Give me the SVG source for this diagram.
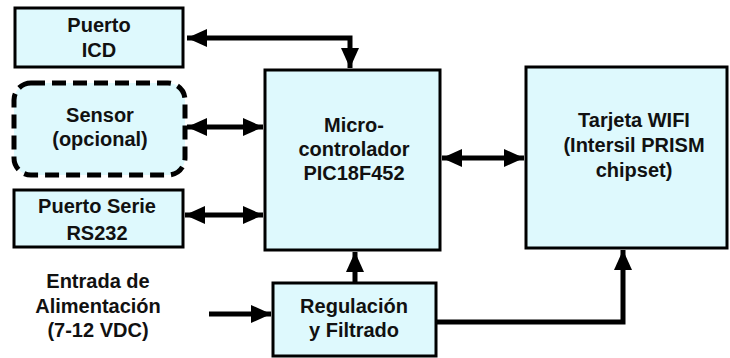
<svg xmlns="http://www.w3.org/2000/svg" width="730" height="358" viewBox="0 0 730 358">
<style>
.box{fill:#def9fd;stroke:#000;stroke-width:3}
.dash{fill:#def9fd;stroke:#000;stroke-width:5;stroke-dasharray:14 7}
.t{font-family:"Liberation Sans",Arial,sans-serif;font-weight:bold;font-size:20px;fill:#111;text-anchor:middle}
.c{fill:none;stroke:#000;stroke-width:5}
</style>
<defs>
<marker id="ah" markerUnits="userSpaceOnUse" markerWidth="22" markerHeight="22" viewBox="0 0 22 22" refX="20" refY="11" orient="auto-start-reverse">
<path d="M0,2 L20,11 L0,20 Z" fill="#000"/>
</marker>
</defs>
<rect width="730" height="358" fill="#fff"/>
<g id="connectors">
<polyline class="c" points="187,38 350,38 350,68" marker-start="url(#ah)" marker-end="url(#ah)"/>
<line class="c" x1="187" y1="127" x2="263" y2="127" marker-start="url(#ah)" marker-end="url(#ah)"/>
<line class="c" x1="185" y1="215" x2="263" y2="215" marker-start="url(#ah)" marker-end="url(#ah)"/>
<line class="c" x1="442" y1="158" x2="524" y2="158" marker-start="url(#ah)" marker-end="url(#ah)"/>
<line class="c" x1="355" y1="283" x2="355" y2="252" marker-end="url(#ah)"/>
<line class="c" x1="209" y1="314" x2="271" y2="314" marker-end="url(#ah)"/>
<polyline class="c" points="436,322 623,322 623,250" marker-end="url(#ah)"/>
</g>
<g id="icd">
<rect class="box" x="15" y="8" width="168" height="59"/>
<text class="t" x="99" y="32">Puerto</text>
<text class="t" x="99" y="57">ICD</text>
</g>
<g id="sensor">
<rect class="dash" x="14" y="83" width="171" height="92" rx="17"/>
<text class="t" x="100" y="122">Sensor</text>
<text class="t" x="100" y="146">(opcional)</text>
</g>
<g id="serie">
<rect class="box" x="14" y="190" width="169" height="57"/>
<text class="t" x="97" y="213">Puerto Serie</text>
<text class="t" x="97" y="240">RS232</text>
</g>
<g id="micro">
<rect class="box" x="265" y="70" width="175" height="180"/>
<text class="t" x="354" y="132">Micro-</text>
<text class="t" x="354" y="156">controlador</text>
<text class="t" x="354" y="180">PIC18F452</text>
</g>
<g id="wifi">
<rect class="box" x="526" y="67" width="201" height="181"/>
<text class="t" x="634" y="127">Tarjeta WIFI</text>
<text class="t" x="634" y="152">(Intersil PRISM</text>
<text class="t" x="634" y="177">chipset)</text>
</g>
<g id="regulacion">
<rect class="box" x="273" y="283" width="163" height="73"/>
<text class="t" x="354" y="313">Regulación</text>
<text class="t" x="354" y="337">y Filtrado</text>
</g>
<g id="entrada">
<text class="t" x="98" y="288">Entrada de</text>
<text class="t" x="98" y="313">Alimentación</text>
<text class="t" x="98" y="337">(7-12 VDC)</text>
</g>
</svg>
